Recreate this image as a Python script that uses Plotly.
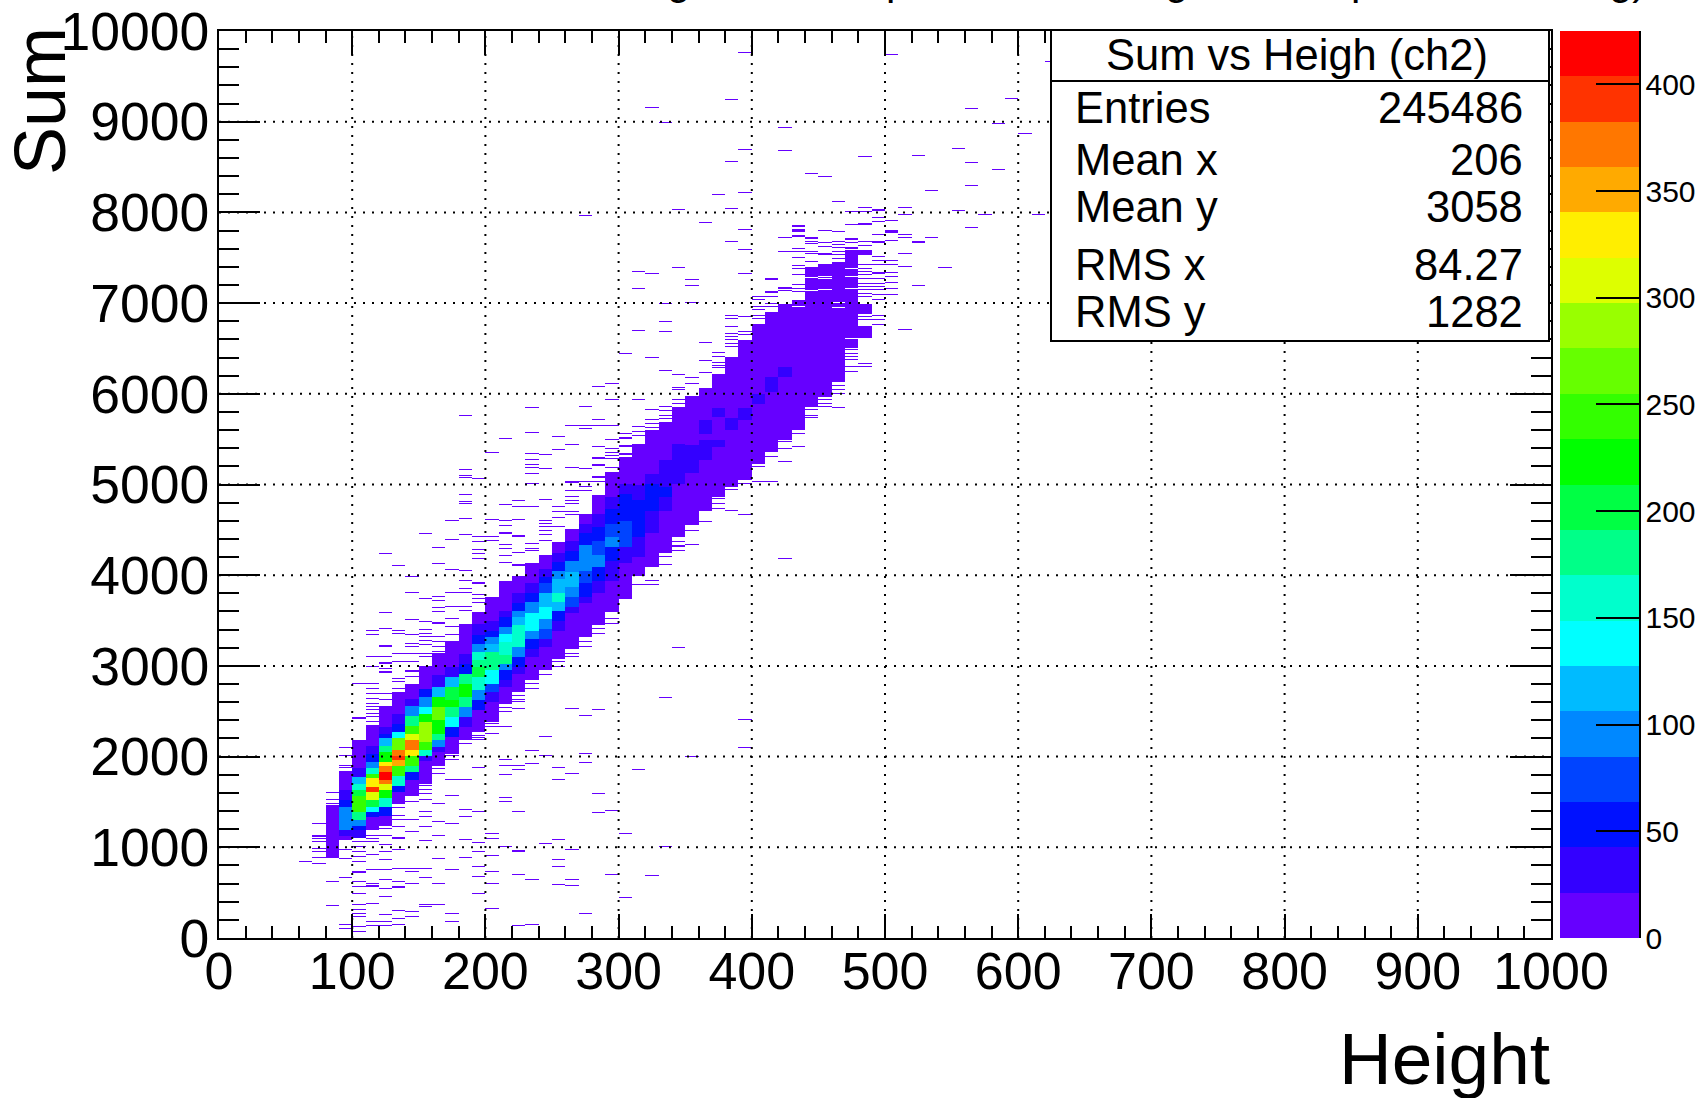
import plotly.graph_objects as go

# ---------- binning of the 2D histogram ----------
X_BIN = 10
Y_BIN = 10
N_X = 100
N_Y = 1000

# ---------- dense core: per Height column, bin-edge runs in Sum and the count in each run ----------
CORE_X = [80, 90, 100, 110, 120, 130, 140, 150, 160, 170, 180, 190, 200, 210, 220, 230, 240, 250, 260, 270,
          280, 290, 300, 310, 320, 330, 340, 350, 360, 370, 380, 390, 400, 410, 420, 430, 440, 450, 460, 470, 480]
CORE_EDGES = [
    [880, 1470],
    [1080, 1130, 1191, 1338, 1448, 1522, 1632, 1840],
    [1100, 1191, 1246, 1300, 1393, 1577, 1632, 1705, 1779, 1870, 2183],
    [1190, 1338, 1393, 1448, 1522, 1613, 1669, 1760, 1815, 1871, 1944, 2036, 2128, 2350],
    [1246, 1356, 1448, 1540, 1632, 1705, 1742, 1834, 1907, 1944, 2054, 2128, 2201, 2257, 2330, 2569],
    [1485, 1613, 1687, 1797, 1907, 1962, 2018, 2073, 2201, 2275, 2367, 2477, 2716],
    [1577, 1742, 1834, 1907, 2018, 2073, 2183, 2257, 2348, 2459, 2569, 2640, 2808],
    [1705, 1950, 2018, 2073, 2165, 2385, 2477, 2550, 2660, 2753, 3000],
    [1907, 2054, 2110, 2183, 2257, 2403, 2550, 2660, 2771, 2900, 3140],
    [2036, 2220, 2330, 2440, 2550, 2624, 2771, 2881, 2991, 3285],
    [2183, 2330, 2440, 2550, 2661, 2808, 2918, 3028, 3138, 3469],
    [2275, 2514, 2624, 2734, 2881, 2991, 3065, 3157, 3249, 3340, 3469, 3598],
    [2385, 2606, 2716, 2808, 2955, 3065, 3157, 3249, 3322, 3396, 3500, 3763],
    [2587, 2770, 2845, 2955, 3028, 3120, 3267, 3359, 3432, 3543, 3616, 3947],
    [2716, 2845, 2918, 2992, 3102, 3212, 3322, 3451, 3543, 3616, 3690, 3800, 3998],
    [2845, 3102, 3194, 3304, 3396, 3580, 3708, 3800, 3910, 4131],
    [2955, 3212, 3304, 3414, 3524, 3653, 3800, 3910, 3984, 4076, 4223],
    [3083, 3396, 3506, 3616, 3708, 3800, 3965, 4057, 4150, 4241, 4370],
    [3194, 3580, 3653, 3763, 3874, 4039, 4168, 4278, 4388, 4517],
    [3322, 3690, 3763, 3910, 4057, 4186, 4333, 4461, 4572, 4682],
    [3450, 3800, 3947, 4094, 4223, 4388, 4535, 4682, 4884],
    [3616, 3947, 4168, 4315, 4425, 4572, 4737, 4866, 5141],
    [3745, 4131, 4315, 4609, 4793, 4903, 5013, 5307],
    [3990, 4200, 4425, 4590, 4830, 4995, 5454],
    [4094, 4462, 4590, 4719, 4830, 5013, 5124, 5601],
    [4241, 4719, 4867, 4977, 5124, 5271, 5693],
    [4425, 5013, 5197, 5454, 5840],
    [4572, 5130, 5440, 5987],
    [4719, 5270, 5491, 5565, 5711, 6060],
    [4867, 5417, 5491, 5748, 5840, 6226],
    [4977, 5601, 5730, 6410],
    [5050, 5711, 5840, 6593],
    [5234, 5895, 6006, 6777],
    [5362, 6024, 6189, 6906],
    [5491, 6189, 6300, 6998],
    [5601, 7034],
    [5859, 7402],
    [5969, 7439],
    [6134, 7457],
    [6501, 7585],
    [6610, 6758, 6887, 6997, 7530, 7585],
]
CORE_COUNTS = [
    [8],
    [12, 35, 100, 85, 50, 30, 10],
    [30, 50, 90, 170, 240, 200, 165, 120, 35, 10],
    [12, 60, 140, 200, 300, 385, 320, 240, 150, 100, 50, 30, 10],
    [14, 60, 150, 230, 300, 370, 415, 380, 320, 230, 180, 120, 50, 30, 10],
    [14, 50, 150, 240, 340, 395, 370, 270, 140, 60, 30, 10],
    [12, 60, 170, 240, 330, 370, 300, 250, 170, 90, 35, 10],
    [10, 40, 150, 240, 280, 220, 140, 90, 45, 12],
    [12, 35, 100, 190, 230, 275, 220, 110, 40, 12],
    [12, 50, 130, 190, 230, 200, 110, 30, 10],
    [12, 35, 100, 180, 215, 170, 60, 30, 10],
    [12, 50, 100, 160, 200, 175, 150, 100, 60, 30, 10],
    [12, 35, 70, 140, 190, 170, 120, 85, 55, 30, 12],
    [12, 35, 60, 100, 180, 160, 130, 100, 60, 30, 10],
    [12, 18, 30, 60, 100, 160, 150, 120, 90, 50, 30, 10],
    [12, 30, 55, 100, 145, 100, 60, 30, 10],
    [12, 30, 65, 100, 140, 110, 75, 50, 30, 12],
    [12, 30, 60, 110, 150, 110, 95, 55, 30, 12],
    [12, 35, 65, 100, 110, 90, 50, 30, 12],
    [12, 35, 55, 70, 105, 85, 55, 28, 12],
    [12, 28, 50, 100, 75, 50, 28, 12],
    [12, 28, 50, 85, 65, 45, 25, 12],
    [12, 38, 70, 55, 45, 30, 12],
    [12, 30, 60, 45, 30, 12],
    [12, 25, 30, 50, 45, 30, 12],
    [12, 35, 50, 35, 28, 12],
    [12, 30, 22, 12],
    [12, 22, 12],
    [12, 28, 14, 25, 12],
    [12, 30, 12, 25, 12],
    [12, 25, 12],
    [12, 30, 12],
    [12, 30, 12],
    [12, 30, 12],
    [12, 25, 12],
    [12],
    [12],
    [12],
    [12],
    [12],
    [12, 0, 12, 0, 12],
]

# ---------- isolated low-count bins: Height column -> Sum values ----------
STRAY_COUNT = 2
STRAYS = {
    60: [849],
    70: [1264, 1136, 1117, 1099, 1062, 1025, 989, 952, 915, 889, 823],
    80: [1602, 1558, 1521, 1485, 621, 353],
    90: [2102, 2018, 1907, 1871, 970, 878, 669, 143, 107],
    100: [2429, 2439, 2808, 1062, 1007, 952, 897, 842, 724, 734, 621, 566, 492, 364, 316, 272, 235, 162, 125, 70],
    110: [3396, 3341, 3109, 2991, 2808, 2753, 2698, 2642, 2587, 2551, 2514, 2477, 2440, 2385, 1136, 1099, 1062, 922,
          757, 603, 566, 576, 371, 381, 180, 132, 3348, 3102, 2955],
    120: [3414, 3212, 3222, 3102, 3028, 2925, 2935, 2698, 2624, 1209, 1136, 1036, 952, 860, 750, 640, 548, 456, 254,
          180, 132, 4234, 3580, 3065, 3030, 2970],
    130: [3396, 3359, 3138, 3046, 2955, 2863, 2826, 2753, 1430, 1356, 1301, 1228, 1099, 1109, 970, 768, 695, 621, 555,
          565, 309, 217, 143, 4108, 3047],
    140: [3341, 3249, 3212, 3138, 3046, 2936, 2946, 2881, 1558, 1503, 1301, 1172, 768, 731, 603, 290, 235, 3984, 3800,
          3513],
    150: [3488, 3359, 3322, 3285, 3230, 3175, 3138, 3102, 1595, 1521, 1393, 1338, 1228, 1073, 768, 669, 364, 346, 4450,
          3811, 3745, 3403, 1687, 1632],
    160: [3469, 3479, 3322, 3267, 3212, 3157, 3120, 3083, 3046, 1863, 1485, 1283, 1136, 878, 695, 603, 364, 4303, 4241,
          4120, 3763, 3725, 3646, 3598, 3462, 3472, 1889, 1815],
    170: [3430, 3340, 1742, 1577, 1264, 750, 272, 180, 4608, 4395, 4065, 4030, 3807, 3817, 3653, 3524, 2018, 1962],
    180: [1749, 1669, 1558, 1411, 1338, 1088, 889, 805, 592, 5766, 5160, 5097, 5075, 4884, 4810, 4792, 4627, 4443, 4050,
          3947, 3855, 3800, 3653, 3616, 2146, 2091],
    190: [2238, 2212, 1871, 1558, 1393, 1051, 952, 786, 676, 492, 5060, 4469, 4425, 4377, 4285, 4234, 4186, 3903, 3913,
          3780, 3745, 3697, 2183],
    200: [2440, 2367, 2330, 2257, 1154, 1099, 904, 731, 603, 327, 5354, 4616, 4564, 4425, 4388],
    210: [2330, 1962, 1907, 1808, 1540, 1503, 1007, 5509, 4774, 4671, 4608, 4546, 4470, 4450, 4333, 4296, 4212, 4142,
          2543, 2495],
    220: [2606, 2532, 1907, 1852, 1393, 959, 969, 702, 132, 5535, 4829, 4755, 4616, 4425, 4435, 4351, 4252, 4101, 4111,
          2679, 2624],
    230: [2062, 1926, 647, 143, 5840, 5575, 5344, 5277, 5226, 5189, 5123, 5013, 4755, 4344, 4296, 4278, 4241,
          2808, 2753],
    240: [2220, 2018, 1044, 5332, 5178, 4836, 4608, 4572, 4535, 4491, 4443, 4388, 2900, 2844],
    250: [1871, 1749, 1080, 867, 786, 584, 5755, 5520, 5380, 4994, 4755, 4700, 4675, 4638, 4535, 3047, 2991],
    260: [2532, 1815, 970, 647, 573, 6071, 5656, 5443, 5189, 5020, 5030, 4939, 4866, 4825, 4792, 4700, 4665, 3138, 3102],
    270: [2459, 2036, 1933, 1456, 272, 6079, 5851, 5755, 5656, 5619, 5325, 5178, 5031, 4976, 4939, 7968, 3267, 3212],
    280: [2514, 1595, 1385, 6086, 5656, 5718, 5410, 5281, 5291, 5226, 5205, 5075, 5085, 5031, 3414, 3359],
    290: [6115, 5939, 5656, 5498, 5399, 5355, 5314, 5285, 5215, 5189, 1400, 700, 3598, 3608, 3524, 3469],
    300: [5961, 5564, 5509, 5519, 5417, 5427, 5336, 5346, 9302, 9191, 7365, 6446, 5565, 440, 1150],
    310: [7340, 7163, 6696, 5932, 5638, 5583, 5546, 8971, 1850, 3929, 3892],
    320: [7329, 6402, 5829, 5711, 5670, 5620, 9158, 680, 3948, 3892],
    330: [6998, 6796, 6685, 6255, 5858, 5810, 5767, 5722, 8993, 2650, 1000, 4204, 4131, 4110],
    340: [8034, 7395, 6219, 6060, 6043, 5969, 5932, 5890, 5840, 7394, 3200, 4370, 4315, 4325, 4278],
    350: [7262, 7196, 7005, 6171, 6116, 2000, 4554, 4499, 4462, 4333],
    360: [7880, 6564, 6391, 6365, 6237, 7880, 4590, 4462],
    370: [6722, 6509, 6455, 6410, 6347, 6315, 6281, 8199, 4848, 4793, 4738],
    380: [8045, 7670, 6869, 6832, 6748, 6667, 6630, 6593, 6556, 6520, 8563, 9247, 4940, 4719],
    390: [7814, 7681, 7593, 7329, 6850, 6722, 6685, 6655, 6612, 9765, 8695, 8210, 2400, 2100, 3700, 5013, 4664],
    400: [7071, 7034, 6961, 6925, 6869, 6832, 5197, 5032],
    410: [7266, 7276, 7115, 7125, 7070, 6998, 6961, 5307, 5105, 5032],
    420: [7725, 7567, 7163, 7134, 7175, 8938, 8684, 4180, 5473, 5436, 5399, 5252],
    430: [7850, 7806, 7843, 7817, 7788, 7733, 7740, 7604, 7560, 7505, 7365, 7416, 7380, 7310, 7255, 7200, 7163, 7126,
          5565, 5417],
    440: [7714, 7724, 7677, 7659, 7586, 7560, 7549, 7450, 8420, 5822, 5767, 5730],
    450: [7806, 7799, 7660, 7623, 7586, 7531, 7541, 7476, 9735, 8398, 5932, 5895, 5851],
    460: [7788, 7798, 7670, 7641, 7612, 7567, 7530, 7494, 8122, 6097, 6042, 6006, 5840],
    470: [7868, 7795, 7703, 7713, 7660, 7604, 7614, 8008, 6483, 6446, 6410, 6373, 6300, 6244],
    480: [7861, 7871, 7677, 7630, 7567, 7475, 7420, 7383, 7346, 7310, 7273, 7218, 7181, 7144, 7108, 7071, 6850, 6814,
          8618, 8056, 8008, 6685, 6336, 6300],
    490: [7898, 7946, 7758, 7666, 7676, 7585, 7512, 7468, 7420, 7328, 7338, 7273, 7218, 7181, 7144, 7090, 7034, 6931,
          6869, 6814, 6769, 8026, 8036],
    500: [7909, 7919, 7809, 7776, 7786, 7695, 7468, 7478, 7427, 7335, 7291, 7229, 7163, 7090, 9743, 8111],
    510: [7751, 7725, 7548, 7409, 6703, 8056, 7979],
    520: [7666, 7676, 7199, 8971, 8629],
    530: [7725, 8243],
    540: [7394],
    550: [8706, 8023],
    560: [9147, 8761, 8552, 8298, 7835],
    570: [7979],
    580: [8982, 8541, 8475],
    590: [9258],
    600: [8861],
    610: [7979],
    620: [9669],
}

# ---------- empty bins inside the dense core: Height column -> Sum values ----------
GAPS = {
    440: [7133, 7280],
    450: [7291, 7273, 7143],
    460: [7000, 6950],
    470: [7383, 7291, 7163, 6604],
    430: [6960],
}

# ---------- palette and axes ----------
PALETTE = ["#6600FF", "#3300FF", "#0011FF", "#0044FF", "#0088FF", "#00BBFF", "#00FFFF", "#00FFCC", "#00FF88",
           "#00FF44", "#00FF00", "#33FF00", "#66FF00", "#99FF00", "#DDFF00", "#FFEE00", "#FFAA00", "#FF7700",
           "#FF3300", "#FF0000"]
Z_MAX = 425
X_TICKS = [0, 100, 200, 300, 400, 500, 600, 700, 800, 900, 1000]
Y_TICKS = [0, 1000, 2000, 3000, 4000, 5000, 6000, 7000, 8000, 9000, 10000]
X_GRID = X_TICKS[1:-1]
Y_GRID = Y_TICKS[1:-1]
Z_TICKS = [0, 50, 100, 150, 200, 250, 300, 350, 400]

# ---------- statistics box ----------
STATS_TITLE = "Sum vs Heigh (ch2)"
STATS_NAMES = ["Entries", "Mean x", "Mean y", "RMS x", "RMS y"]
STATS_VALUES = ["245486", "206", "3058", "84.27", "1282"]

# glyph tails of the title that is cut by the top of the page
CUT_TITLE = [(",", 596), ("g", 678), ("p", 897), ("g", 1176), ("p", 1362), ("g)", 1628)]

# ---------- page geometry in pixels ----------
W, H = 1704, 1098
L, R, T, B = 219, 1551, 31, 938
FONT = "Liberation Sans, Arial, sans-serif"


def px(x):
    return (x - L) / (R - L)


def py(y):
    return (B - y) / (B - T)


# ---------- fill the histogram ----------
z = [[None] * N_X for _ in range(N_Y)]
for cx, edges, counts in zip(CORE_X, CORE_EDGES, CORE_COUNTS):
    i = cx // X_BIN
    for lo, hi, c in zip(edges[:-1], edges[1:], counts):
        if c == 0:
            continue
        for j in range(lo // Y_BIN, hi // Y_BIN):
            z[j][i] = c
for cx, ys in STRAYS.items():
    for y in ys:
        j = y // Y_BIN
        if z[j][cx // X_BIN] is None:
            z[j][cx // X_BIN] = STRAY_COUNT
for cx, ys in GAPS.items():
    for y in ys:
        z[y // Y_BIN][cx // X_BIN] = None

scale = []
for k, col in enumerate(PALETTE):
    scale.append([k / len(PALETTE), col])
    scale.append([(k + 1) / len(PALETTE), col])

fig = go.Figure(go.Heatmap(
    z=z, x0=X_BIN / 2, dx=X_BIN, y0=Y_BIN / 2, dy=Y_BIN,
    zmin=0, zmax=Z_MAX, colorscale=scale, hoverongaps=False,
    colorbar=dict(
        x=px(1560), xanchor="left", xpad=0, y=0, yanchor="bottom", ypad=0,
        len=1, lenmode="fraction", thickness=79, thicknessmode="pixels",
        outlinewidth=0, borderwidth=0,
        tickmode="array", tickvals=Z_TICKS, ticktext=[str(v) for v in Z_TICKS],
        ticks="inside", ticklen=43, tickwidth=2, tickcolor="black",
        tickfont=dict(family=FONT, size=30, color="black"),
    ),
))

shapes = []
for v in X_GRID:
    shapes.append(dict(type="line", xref="x", yref="y", x0=v, x1=v, y0=Y_TICKS[0], y1=Y_TICKS[-1], layer="above",
                       line=dict(color="black", width=2, dash="2px,7px")))
for v in Y_GRID:
    shapes.append(dict(type="line", xref="x", yref="y", x0=X_TICKS[0], x1=X_TICKS[-1], y0=v, y1=v, layer="above",
                       line=dict(color="black", width=2, dash="2px,7px")))
shapes.append(dict(type="rect", xref="paper", yref="paper", x0=px(1051), x1=px(1549), y0=py(341), y1=py(30),
                   fillcolor="white", line=dict(color="black", width=2), layer="above"))
shapes.append(dict(type="line", xref="paper", yref="paper", x0=px(1051), x1=px(1549), y0=py(81), y1=py(81),
                   line=dict(color="black", width=2), layer="above"))
shapes.append(dict(type="line", xref="paper", yref="paper", x0=px(1640), x1=px(1640), y0=0, y1=1,
                   line=dict(color="black", width=2), layer="above"))

ann = []
ann.append(dict(text=STATS_TITLE, x=px(1297), y=py(55), xanchor="center", yanchor="middle", font_size=43.5))
for name, value, cy in zip(STATS_NAMES, STATS_VALUES, [108, 160, 207, 265, 312]):
    ann.append(dict(text=name, x=px(1075), y=py(cy), xanchor="left", yanchor="middle", font_size=43.5))
    ann.append(dict(text=value, x=px(1523), y=py(cy), xanchor="right", yanchor="middle", font_size=43.5))
ann.append(dict(text="Height", x=px(1550), y=py(1058), xanchor="right", yanchor="middle", font_size=73))
ann.append(dict(text="Sum", x=px(40), y=py(27), xanchor="center", yanchor="top", textangle=-90, font_size=72))
for glyph, gx in CUT_TITLE:
    ann.append(dict(text=glyph, x=px(gx), y=py(3), xanchor="center", yanchor="bottom", font_size=42))
for a in ann:
    a.update(xref="paper", yref="paper", showarrow=False, borderpad=0, borderwidth=0,
             font=dict(family=FONT, size=a.pop("font_size"), color="black"))

axis_common = dict(showline=True, linecolor="black", linewidth=2, mirror="ticks", ticks="inside", tickcolor="black",
                   tickwidth=2, showgrid=False, zeroline=False, tickmode="array")

fig.update_layout(
    width=W, height=H, autosize=False, showlegend=False,
    margin=dict(l=L, r=W - R, t=T, b=H - B, pad=0, autoexpand=False),
    paper_bgcolor="white", plot_bgcolor="white",
    xaxis=dict(range=[X_TICKS[0], X_TICKS[-1]], tickvals=X_TICKS, ticktext=[str(v) for v in X_TICKS], ticklen=24,
               minor=dict(ticks="inside", dtick=20, ticklen=12, tickwidth=2, tickcolor="black"),
               tickfont=dict(family=FONT, size=52, color="black"),
               ticklabelstandoff=-13, **axis_common),
    yaxis=dict(range=[Y_TICKS[0], Y_TICKS[-1]], tickvals=Y_TICKS, ticktext=[str(v) for v in Y_TICKS], ticklen=41,
               minor=dict(ticks="inside", dtick=200, ticklen=20, tickwidth=2, tickcolor="black"),
               tickfont=dict(family=FONT, size=53.5, color="black"),
               ticklabelstandoff=-3, **axis_common),
    shapes=shapes, annotations=ann,
)

fig.write_html("out.html", config={"displayModeBar": False},
               post_script="document.body.style.margin='0';document.body.style.overflow='hidden';")
